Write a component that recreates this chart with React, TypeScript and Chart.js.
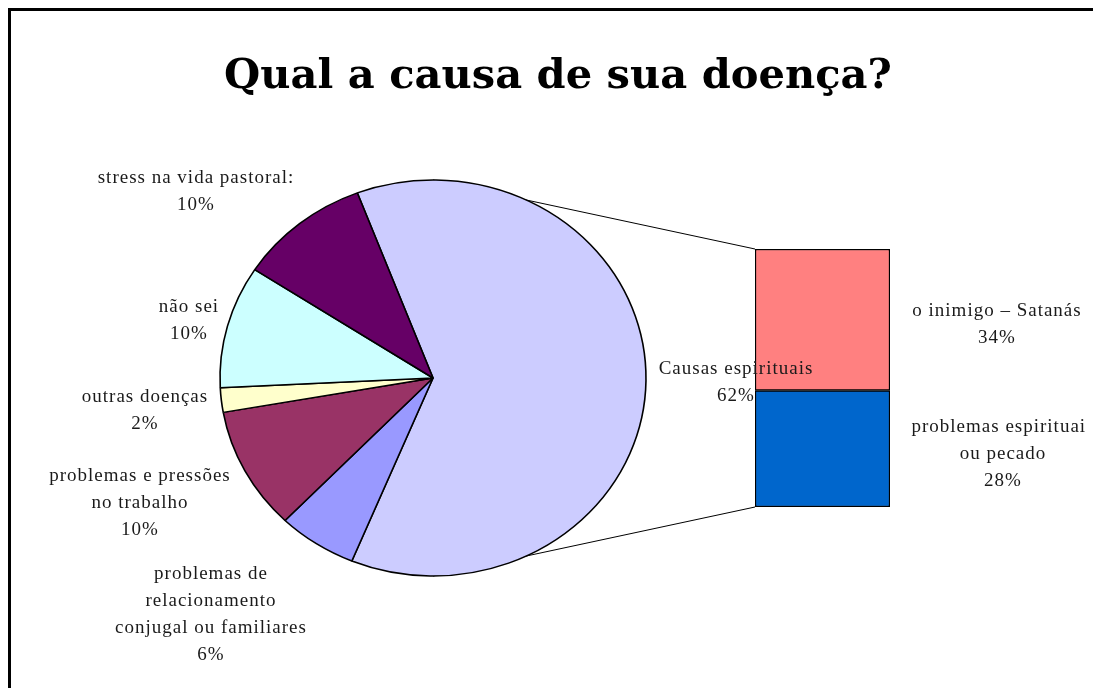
import React, { useEffect, useRef } from "react";
import { Chart, registerables } from "chart.js";

Chart.register(...registerables);

const titleText = "Qual a causa de sua doença?";
const pieLabels = [
  "Causas espirituais",
  "problemas de relacionamento conjugal ou familiares",
  "problemas e pressões no trabalho",
  "outras doenças",
  "não sei",
  "stress na vida pastoral:",
];
const pieValues = [62, 6, 10, 2, 10, 10];
const pieColors = ["#CCCCFF", "#9999FF", "#993366", "#FFFFCC", "#CCFFFF", "#660066"];
const barLabels = ["problemas espirituais ou pecado", "o inimigo – Satanás"];
const barValues = [28, 34];
const barColors = ["#0066CC", "#FF8080"];

// label line breaks as in the picture (index into pieLabels / barLabels)
const pieLabelLines = [
  ["Causas espirituais"],
  ["problemas de", "relacionamento", "conjugal ou familiares"],
  ["problemas e pressões", "no trabalho"],
  ["outras doenças"],
  ["não sei"],
  ["stress na vida pastoral:"],
];
const barLabelLines = [["problemas espirituais", "ou pecado"], ["o inimigo – Satanás"]];

// label placement (container coords): center x, top of first line
const pieLabelPos = [
  [728, 346],
  [203, 551],
  [132, 453],
  [137, 374],
  [181, 284],
  [188, 155],
];
const barLabelPos = [
  [995, 404],
  [989, 288],
];

const FONT = '"Liberation Serif", "DejaVu Serif", serif';

export default function App() {
  const pieRef = useRef<HTMLCanvasElement | null>(null);
  const barRef = useRef<HTMLCanvasElement | null>(null);

  useEffect(() => {
    document.documentElement.style.overflow = "hidden";
    document.body.style.overflow = "hidden";
    const barLeft = 732;
    const barTop = 222;
    const barChart = new Chart(barRef.current!, {
      type: "bar",
      data: {
        labels: [""],
        datasets: barValues.map((v, i) => ({
          label: barLabels[i],
          data: [v],
          backgroundColor: barColors[i],
          borderColor: "#000000",
          borderWidth: 1.5,
          borderSkipped: false,
          barPercentage: 1,
          categoryPercentage: 1,
        })),
      },
      options: {
        animation: false,
        responsive: false,
        maintainAspectRatio: false,
        layout: { padding: { left: 15, right: 15, top: 19, bottom: 23 } },
        plugins: { legend: { display: false }, tooltip: { enabled: false } },
        scales: {
          x: { stacked: true, display: false },
          y: { stacked: true, display: false, min: 0, max: 62 },
        },
      },
    });

    const ellipse = {
      id: "ellipse",
      beforeDatasetsDraw(chart: any) {
        const ctx = chart.ctx;
        const arc = chart.getDatasetMeta(0).data[0] as any;
        const cx = arc.x;
        const cy = arc.y;
        const r = arc.outerRadius;
        // connector lines to the bar
        const topMeta = barChart.getDatasetMeta(1).data[0] as any;
        const botMeta = barChart.getDatasetMeta(0).data[0] as any;
        const bl = barLeft + topMeta.x - topMeta.width / 2;
        const bt = barTop + topMeta.y;
        const bb = barTop + botMeta.base;
        ctx.save();
        ctx.strokeStyle = "#000000";
        ctx.lineWidth = 1;
        ctx.beginPath();
        ctx.moveTo(cx, cy - r);
        ctx.lineTo(bl, bt);
        ctx.moveTo(cx, cy + r);
        ctx.lineTo(bl, bb);
        ctx.stroke();
        ctx.restore();
        ctx.save();
        ctx.translate(cx, cy);
        ctx.scale(213 / 198, 1);
        ctx.translate(-cx, -cy);
      },
      afterDatasetsDraw(chart: any) {
        chart.ctx.restore();
      },
    };

    const pieChart = new Chart(pieRef.current!, {
      type: "pie",
      data: {
        labels: pieLabels,
        datasets: [
          {
            data: pieValues,
            backgroundColor: pieColors,
            borderColor: "#000000",
            borderWidth: 1.5,
          },
        ],
      },
      options: {
        animation: false,
        responsive: false,
        maintainAspectRatio: false,
        radius: 198,
        rotation: -20.8,
        layout: { padding: { left: 0, right: 227, top: 60, bottom: 0 } },
        plugins: { legend: { display: false }, tooltip: { enabled: false } },
      } as any,
      plugins: [ellipse],
    });

    return () => {
      pieChart.destroy();
      barChart.destroy();
    };
  }, []);

  const labelStyle = (cx: number, top: number): React.CSSProperties => ({
    position: "absolute",
    left: cx - 160,
    top,
    width: 320,
    textAlign: "center",
    fontFamily: FONT,
    fontSize: 19,
    letterSpacing: "1px",
    lineHeight: "27px",
    color: "#1a1a1a",
    whiteSpace: "nowrap",
  });

  return (
    <div
      style={{
        position: "relative",
        width: 1077,
        height: 680,
        overflow: "visible",
        background: "#ffffff",
      }}
    >
      <div
        style={{
          position: "fixed",
          left: 8,
          top: 8,
          width: 1200,
          height: 800,
          borderTop: "3px solid #000",
          borderLeft: "3px solid #000",
        }}
      />
      <canvas
        ref={pieRef}
        width={1077}
        height={680}
        style={{ position: "absolute", left: 0, top: 0, width: 1077, height: 680 }}
      />
      <canvas
        ref={barRef}
        width={165}
        height={300}
        style={{ position: "absolute", left: 732, top: 222, width: 165, height: 300 }}
      />
      <div
        style={{
          position: "absolute",
          left: 0,
          width: 1100,
          top: 38,
          textAlign: "center",
          fontFamily: '"DejaVu Serif", "Liberation Serif", serif',
          fontWeight: "bold",
          fontSize: 41.6,
          lineHeight: "56px",
          color: "#000",
          whiteSpace: "nowrap",
        }}
      >
        {titleText}
      </div>
      {pieLabelLines.map((lines, i) => (
        <div key={"p" + i} style={labelStyle(pieLabelPos[i][0], pieLabelPos[i][1])}>
          {lines.map((l, j) => (
            <div key={j}>{l}</div>
          ))}
          <div>{pieValues[i] + "%"}</div>
        </div>
      ))}
      {barLabelLines.map((lines, i) => (
        <div key={"b" + i} style={labelStyle(barLabelPos[i][0], barLabelPos[i][1])}>
          {lines.map((l, j) => (
            <div key={j}>{l}</div>
          ))}
          <div>{barValues[i] + "%"}</div>
        </div>
      ))}
    </div>
  );
}
